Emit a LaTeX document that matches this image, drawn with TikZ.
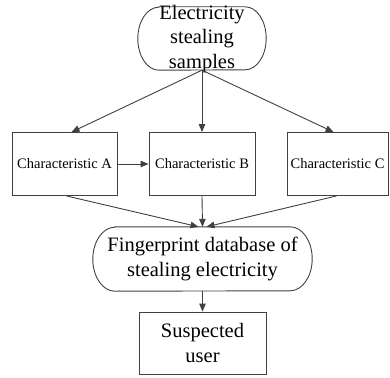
\documentclass[tikz,border=0pt]{standalone}
\usepackage{fontspec}
\setmainfont{Liberation Serif}
\usetikzlibrary{arrows.meta}

\tikzset{
  flowline/.style={draw=black!75, line width=0.9pt},
  flowarrow/.style={flowline, -{Triangle[length=8pt,width=6.5pt]}},
  charbox/.style={flowline, minimum height=63pt, inner sep=0pt,
    font=\fontsize{14.5}{17}\selectfont},
  bigtext/.style={align=center, inner sep=0pt,
    font=\fontsize{20.5}{24.5}\selectfont},
}

% outline with elliptic ends round a node: #1 node, #2 end width, #3 half height
\newcommand\ovalround[3]{%
  \draw[flowline] ([xshift=#2]#1.north west) -- ([xshift=-#2]#1.north east)
    arc[start angle=90, end angle=-90, x radius=#2, y radius=#3]
    -- ([xshift=#2]#1.south west)
    arc[start angle=270, end angle=90, x radius=#2, y radius=#3] -- cycle;}

\begin{document}
\begin{tikzpicture}[x=1pt, y=-1pt, >=stealth]
  \useasboundingbox (0,0) rectangle (390,377);

  % source samples
  \node[minimum width=128pt, minimum height=63pt] (samples) at (202,38.5) {};
  \ovalround{samples}{21pt}{31.5pt}
  \node[bigtext] (samplestext) at (202,39) {Electricity\\stealing\\samples};

  % extracted characteristics
  \node[charbox, minimum width=105pt] (chara) at (64.5,164) {Characteristic A};
  \node[charbox, minimum width=106pt] (charb) at (202,164) {Characteristic B};
  \node[charbox, minimum width=101pt] (charc) at (337.5,164) {Characteristic C};

  % fingerprint database
  \node[bigtext, minimum width=219pt, minimum height=64pt] (database) at (202.5,259)
    {Fingerprint database of\\stealing electricity};
  \ovalround{database}{22pt}{32pt}

  % result
  \node[flowline, bigtext, minimum width=127pt, minimum height=62pt] (user) at (202.5,343) {Suspected\\user};

  \draw[flowarrow] (samples.south) -- ([xshift=7pt]chara.north);
  \draw[flowarrow] (samples.south) -- (charb.north);
  \draw[flowarrow] (samples.south) -- ([xshift=-4pt]charc.north);
  \draw[flowarrow] (chara.east) -- (charb.west);

  \draw[flowarrow] ([xshift=2pt]chara.south) -- ([xshift=-4pt]database.north);
  \draw[flowarrow] (charb.south) -- (database.north);
  \draw[flowarrow] ([xshift=-1pt]charc.south) -- ([xshift=4pt]database.north);

  \draw[flowarrow] (database.south) -- (user.north);
\end{tikzpicture}
\end{document}
